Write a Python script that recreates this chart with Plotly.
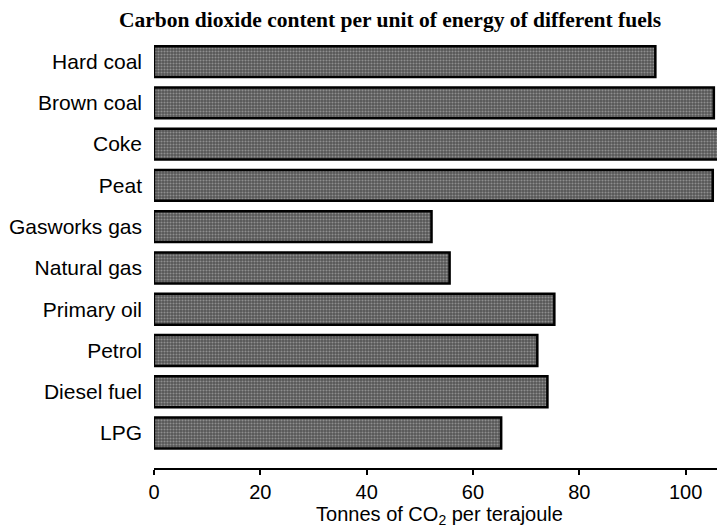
import plotly.graph_objects as go

fuels = ["Hard coal", "Brown coal", "Coke", "Peat", "Gasworks gas",
         "Natural gas", "Primary oil", "Petrol", "Diesel fuel", "LPG"]
co2_per_tj = [94.3, 105.3, 108.0, 105.1, 52.2, 55.6, 75.3, 72.1, 74.0, 65.3]
x_ticks = [0, 20, 40, 60, 80, 100]

fig = go.Figure(go.Bar(
    x=co2_per_tj, y=fuels, orientation="h", width=0.75,
    marker=dict(color="#4a4a4a",
                line=dict(color="black", width=2.5),
                pattern=dict(shape=".", fgcolor="#c8c8c8", bgcolor="#555555",
                             size=3, solidity=0.4)),
))

# the page body has an 8px offset; figure is sized to end at the window edge
W, H = 717, 522
L, R, T, B = 146, 0, 33, 62
pw, ph = W - L - R, H - T - B

fig.update_layout(
    width=W, height=H,
    margin=dict(l=L, r=R, t=T, b=B, autoexpand=False),
    paper_bgcolor="white", plot_bgcolor="white",
    showlegend=False,
    font=dict(family="Liberation Sans, Arial, sans-serif", size=21, color="black"),
    annotations=[dict(
        text="<b>Carbon dioxide content per unit of energy of different fuels</b>",
        x=(382 - L) / pw, xref="paper", y=(H - B - 12) / ph, yref="paper",
        showarrow=False,
        font=dict(family="Liberation Serif, Times New Roman, serif", size=21.5, color="black"),
        xanchor="center", yanchor="middle")],
)

fig.update_xaxes(
    range=[0, 107.4], tickvals=x_ticks, ticktext=[str(v) for v in x_ticks],
    showline=True, linecolor="black", linewidth=2,
    ticks="outside", ticklen=5, tickwidth=2, tickcolor="black",
    showgrid=False, zeroline=False, automargin=False,
    tickfont=dict(size=20),
    title=dict(text="Tonnes of CO<sub>2</sub> per terajoule", standoff=2,
               font=dict(size=20)),
)
fig.update_yaxes(
    categoryorder="array", categoryarray=fuels,
    range=[9.85, -0.5], automargin=False,
    showline=False, showgrid=False, zeroline=False, ticks="",
    ticklabelstandoff=11,
)

fig.write_html("out.html")
